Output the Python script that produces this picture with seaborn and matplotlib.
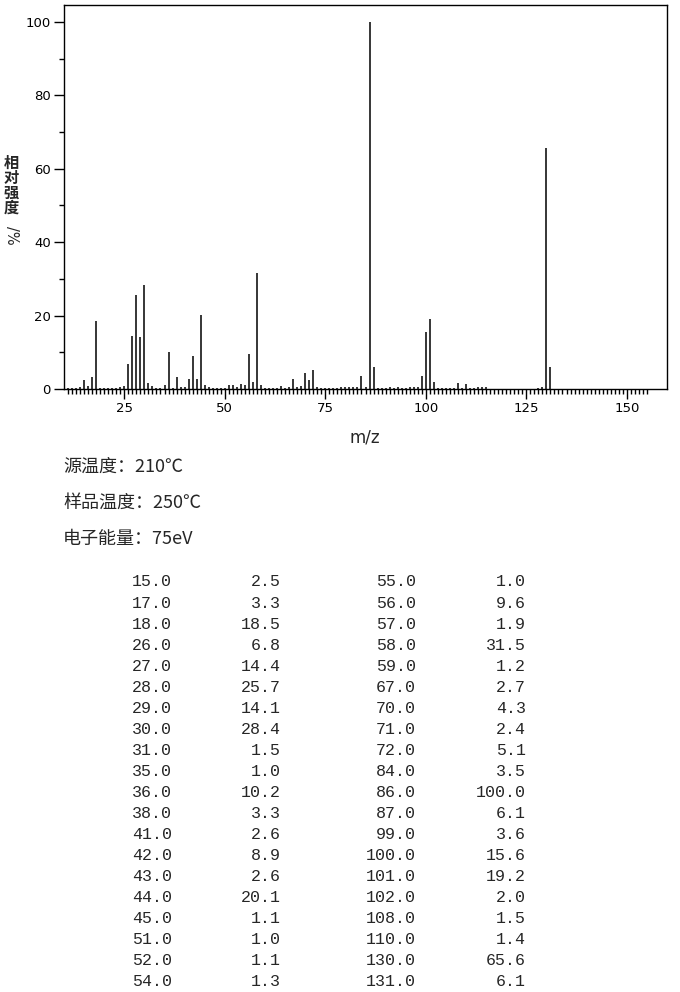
import numpy as np
import pandas as pd
import seaborn as sns
import matplotlib.pyplot as plt
from matplotlib.ticker import FixedLocator, MultipleLocator

# peaks listed in the table (m/z, relative intensity in %)
mz = [15, 17, 18, 26, 27, 28, 29, 30, 31, 35, 36, 38, 41, 42, 43, 44, 45, 51, 52, 54,
      55, 56, 57, 58, 59, 67, 70, 71, 72, 84, 86, 87, 99, 100, 101, 102, 108, 110, 130, 131]
intensity = [2.5, 3.3, 18.5, 6.8, 14.4, 25.7, 14.1, 28.4, 1.5, 1.0, 10.2, 3.3, 2.6, 8.9, 2.6, 20.1, 1.1, 1.0, 1.1, 1.3,
             1.0, 9.6, 1.9, 31.5, 1.2, 2.7, 4.3, 2.4, 5.1, 3.5, 100.0, 6.1, 3.6, 15.6, 19.2, 2.0, 1.5, 1.4, 65.6, 6.1]

# tiny peaks (< 1 %) read off the spectrum, not in the table
small_mz = [11, 12, 13, 14, 16, 19, 20, 21, 22, 23, 24, 25, 32, 33, 34, 37, 39, 40, 46, 47,
            48, 49, 50, 53, 60, 61, 62, 63, 64, 65, 66, 68, 69, 73, 74, 75, 76, 77, 78, 79,
            80, 81, 82, 83, 85, 88, 89, 90, 91, 92, 93, 94, 95, 96, 97, 98, 103, 104, 105, 106,
            107, 109, 111, 112, 113, 114, 115, 128, 129]
small_intensity = [0.4, 0.4, 0.4, 0.6, 0.9, 0.4, 0.3, 0.3, 0.3, 0.3, 0.6, 0.9, 0.9, 0.4, 0.3, 0.3, 0.6, 0.6, 0.6, 0.3,
                   0.3, 0.3, 0.3, 0.5, 0.3, 0.3, 0.3, 0.3, 0.8, 0.3, 0.5, 0.6, 0.8, 0.5, 0.4, 0.3, 0.3, 0.3, 0.3, 0.5,
                   0.6, 0.5, 0.5, 0.5, 0.6, 0.3, 0.3, 0.3, 0.5, 0.3, 0.5, 0.3, 0.3, 0.5, 0.5, 0.5, 0.4, 0.3, 0.3, 0.3,
                   0.3, 0.3, 0.3, 0.3, 0.6, 0.5, 0.5, 0.4, 0.6]

info_lines = ["源温度：210℃", "样品温度：250℃", "电子能量：75eV"]
ylabel_chars = "相对强度"
ylabel_unit = "/%"

spec = pd.DataFrame({"mz": mz + small_mz, "intensity": intensity + small_intensity})
spec = spec.sort_values("mz")

sns.set_theme(style="ticks")
plt.rcParams['font.family'] = ['DejaVu Sans', 'Noto Sans CJK SC']
cjk = ['Noto Sans CJK SC', 'DejaVu Sans']

W, H = 680, 992
fig = plt.figure(figsize=(W / 100, H / 100), dpi=100)
ax = fig.add_axes([64 / W, 1 - 389 / H, (667 - 64) / W, (389 - 5) / H])

ax.vlines(spec["mz"], 0, spec["intensity"], color="black", linewidth=1.1)

ax.set_xlim(10, 160)
ax.set_ylim(0, 104.6)
ax.xaxis.set_major_locator(FixedLocator([25, 50, 75, 100, 125, 150]))
ax.xaxis.set_minor_locator(FixedLocator(list(range(11, 156))))
ax.yaxis.set_major_locator(MultipleLocator(20))
ax.yaxis.set_minor_locator(MultipleLocator(10))
ax.tick_params(which="major", direction="out", length=7.5, width=1, color="black",
               labelsize=9.5, labelcolor="black", pad=2)
ax.tick_params(which="minor", direction="out", length=3.5, width=1, color="black")
for s in ax.spines.values():
    s.set_color("black")
    s.set_linewidth(1)
ax.set_xlabel("")
ax.set_ylabel("")

fig.text(365 / W, 1 - 437 / H, "m/z", ha="center", va="center", fontsize=12)

# vertical y label: one character per line, then the unit turned sideways
for k, ch in enumerate(ylabel_chars):
    fig.text(11 / W, 1 - (163 + k * 15) / H, ch, ha="center", va="center",
             fontsize=11, family=cjk, fontweight="bold")
fig.text(11 / W, 1 - 235 / H, ylabel_unit, ha="center", va="center",
         fontsize=10.5, rotation=270)

# acquisition conditions
for i, line in enumerate(info_lines):
    fig.text(63 / W, 1 - (467 + i * 36) / H, line, ha="left", va="center",
             fontsize=13, family=cjk)

# peak table, two column pairs
rows = 20
for i in range(len(mz)):
    col = i // rows
    r = i % rows
    y = 1 - (582 + r * 21.05) / H
    x_mz = (172 if col == 0 else 416) / W
    x_int = (281 if col == 0 else 526) / W
    fig.text(x_mz, y, f"{mz[i]:.1f}", ha="right", va="center", fontsize=12,
             family="Liberation Mono")
    fig.text(x_int, y, f"{intensity[i]:.1f}", ha="right", va="center", fontsize=12,
             family="Liberation Mono")

fig.savefig("out.png", dpi=100, facecolor="white")
